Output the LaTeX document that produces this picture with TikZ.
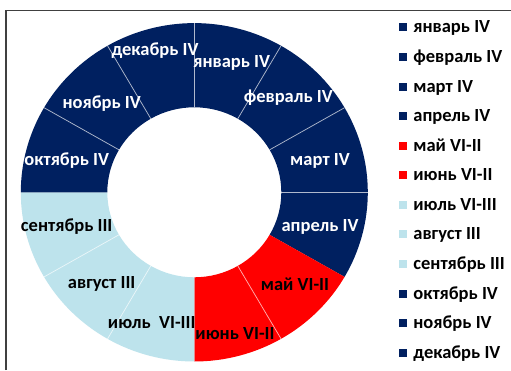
\documentclass[tikz,border=0pt]{standalone}
\usepackage{fontspec}
\setmainfont{Carlito}
\usetikzlibrary{calc,positioning}
\definecolor{navy}{HTML}{002060}
\definecolor{drop}{HTML}{BDE3EC}
\definecolor{framegray}{HTML}{404040}
\tikzset{
  lab/.style={font=\bfseries\fontsize{18.5}{21}\selectfont, inner sep=0pt},
  wlab/.style={lab, text=white},
  legsq/.style={minimum size=8pt, inner sep=0pt},
  legtxt/.style={lab, anchor=base west},
  sep/.style={white, opacity=.6, line width=.8pt}
}
% one slice of the ring: start angle, colour
\newcommand{\monthseg}[2]{%
  \fill[#2] (c) ++(#1:173.5 and 169.2)
    arc[start angle=#1, end angle=#1-30, x radius=173.5, y radius=169.2]
    -- ($(c)+({#1-30}:87 and 85)$)
    arc[start angle=#1-30, end angle=#1, x radius=87, y radius=85] -- cycle;}
\begin{document}
\begin{tikzpicture}[x=1pt, y=1pt]
  \useasboundingbox (0,0) rectangle (511,370);
  \fill[white] (0,0) rectangle (511,370);
  \draw[framegray, line width=1.5pt] (6,0) -- (6,359.5) -- (511,359.5);
  \coordinate (c) at (194.3,177.7);
  % ring
  \foreach \a/\col in {90/navy, 60/navy, 30/navy, 0/navy, -30/red, -60/red,
                       -90/drop, -120/drop, -150/drop, 180/navy, 150/navy, 120/navy}
    \monthseg{\a}{\col};
  \foreach \a in {90, 60, 30, 0, -60, -120, -150, 150, 120}
    \draw[sep] ($(c)+(\a:87 and 85)$) -- ($(c)+(\a:173.5 and 169.2)$);
  % labels on the ring
  \node[wlab] (jan) at (231.7,307.3) {январь IV};
  \node[wlab] (feb) at (288.3,272.3) {февраль IV};
  \node[wlab] (mar) at (320,209.3)   {март IV};
  \node[wlab] (apr) at (320,143.3)   {апрель IV};
  \node[lab]  (may) at (295,86)      {май VI-II};
  \node[lab]  (jun) at (235,36.7)    {июнь VI-II};
  \node[lab]  (jul) at (151.7,47.3)  {июль\ \ VI-III};
  \node[lab]  (aug) at (101.7,86)    {август III};
  \node[lab]  (sep) at (66.7,143.3)  {сентябрь III};
  \node[wlab] (oct) at (66.7,209.3)  {октябрь IV};
  \node[wlab] (nov) at (101.7,266)   {ноябрь IV};
  \node[wlab] (dec) at (155,319.3)   {декабрь IV};
  % legend
  \foreach \txt/\col [count=\i from 0] in {январь IV/navy, февраль IV/navy,
      март IV/navy, апрель IV/navy, май VI-II/red, июнь VI-II/red,
      июль VI-III/drop, август III/drop, сентябрь III/drop, октябрь IV/navy,
      ноябрь IV/navy, декабрь IV/navy} {
    \node[legsq, fill=\col] (sq\i) at (402.5,{342.5-29.57*\i}) {};
    \node[legtxt] (lg\i) at ($(sq\i.east)+(6.5,-5.5)$) {\txt};
  }
\end{tikzpicture}
\end{document}
